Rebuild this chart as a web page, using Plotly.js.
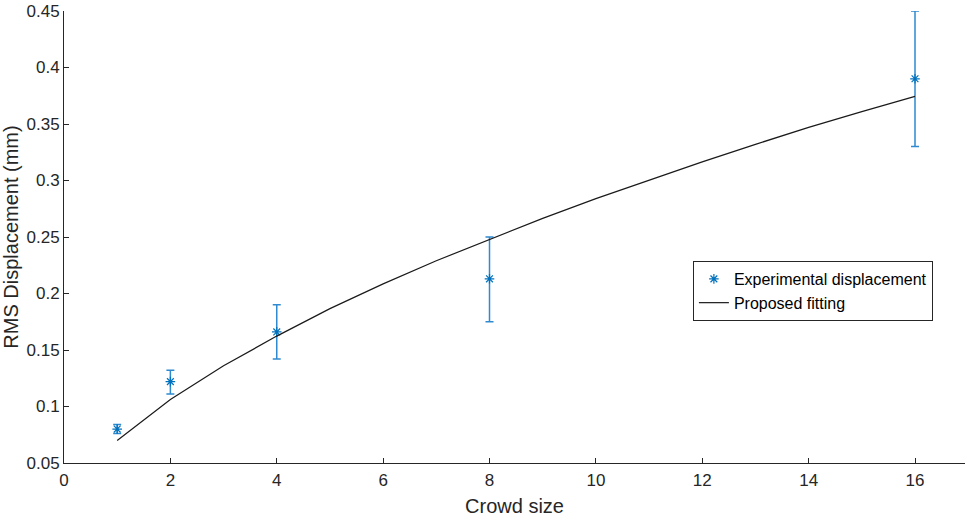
<!DOCTYPE html>
<html><head><meta charset="utf-8">
<script src="https://cdn.plot.ly/plotly-3.0.1.min.js"></script>
<style>html,body{margin:0;padding:0;background:#fff}#c{width:965px;height:517px}</style>
</head><body><div id="c"></div>
<script>
const crowd = [1, 2, 4, 8, 16];
const rmsDisp = [0.080, 0.122, 0.166, 0.213, 0.390];
const errUpper = [0.004, 0.010, 0.024, 0.037, 0.060];
const errLower = [0.004, 0.011, 0.024, 0.038, 0.060];
const fitX = [1, 2, 3, 4, 5, 6, 7, 8, 9, 10, 11, 12, 13, 14, 15, 16];
const fitY = [0.0700, 0.1062, 0.1360, 0.1623, 0.1866, 0.2085, 0.2290, 0.2480, 0.2665, 0.2840, 0.3005, 0.3165, 0.3320, 0.3470, 0.3610, 0.3745];
const xTicks = [0, 2, 4, 6, 8, 10, 12, 14, 16];
const yTicks = [0.05, 0.1, 0.15, 0.2, 0.25, 0.3, 0.35, 0.4, 0.45];

const font = {family: 'Liberation Sans, Arial, sans-serif', color: '#262626'};
const traces = [
  {x: crowd, y: rmsDisp, type: 'scatter', mode: 'markers', name: 'Experimental displacement',
   marker: {symbol: 'asterisk-open', size: 8, color: '#0072BD', line: {color: '#0072BD', width: 1.2}},
   error_y: {type: 'data', symmetric: false, array: errUpper, arrayminus: errLower, color: '#2f8ad0', thickness: 1.5, width: 4}},
  {x: fitX, y: fitY, type: 'scatter', mode: 'lines', name: 'Proposed fitting',
   line: {color: '#1a1a1a', width: 1.2}}
];
const layout = {
  width: 965, height: 517,
  margin: {l: 64, r: 0, t: 11, b: 54},
  paper_bgcolor: '#fff', plot_bgcolor: '#fff',
  font: font,
  showlegend: true,
  legend: {x: 0.698, y: 0.447, xanchor: 'left', yanchor: 'top', bgcolor: '#fff', bordercolor: '#262626', borderwidth: 1,
           font: {family: font.family, size: 16, color: '#000'}, tracegroupgap: 0, itemwidth: 30},
  xaxis: {range: [0, 16.94], tickvals: xTicks, ticktext: xTicks.map(String), showgrid: false, zeroline: false,
          showline: true, linecolor: '#262626', linewidth: 1, ticks: 'inside', ticklen: 5, tickcolor: '#262626',
          tickfont: {size: 17, color: '#262626'}, ticklabelstandoff: 2,
          title: {text: 'Crowd size', font: {size: 20, color: '#262626'}, standoff: 10}},
  yaxis: {range: [0.05, 0.45], tickvals: yTicks, ticktext: yTicks.map(v => String(v)), showgrid: false, zeroline: false,
          showline: true, linecolor: '#262626', linewidth: 1, ticks: 'inside', ticklen: 5, tickcolor: '#262626',
          tickfont: {size: 17, color: '#262626'},
          title: {text: 'RMS Displacement (mm)', font: {size: 20, color: '#262626'}, standoff: 2}}
};
Plotly.newPlot('c', traces, layout, {staticPlot: true, displayModeBar: false});
</script></body></html>
